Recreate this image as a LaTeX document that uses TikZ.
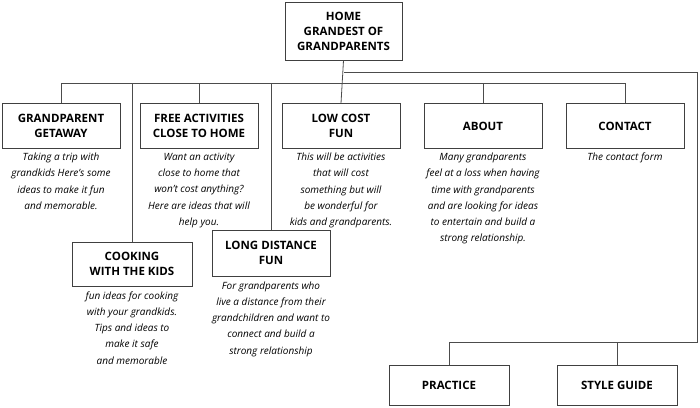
\documentclass[tikz,border=0pt]{standalone}
\usepackage{fontspec}
\setmainfont{Open Sans}
\usetikzlibrary{positioning}
\begin{document}
\begin{tikzpicture}[x=1pt,y=-1pt,
page/.style={draw=black!75,thick,align=center,font=\bfseries\fontsize{11.5}{15}\selectfont,inner sep=0pt},
note/.style={align=center,font=\itshape\fontsize{10}{16.2}\selectfont,inner sep=0pt},
link/.style={draw=black!70,thick}]
\useasboundingbox (0,0) rectangle (700,407);
% home
\node[page,minimum width=117pt,minimum height=58pt] (home) at (343.5,31) {HOME\\GRANDEST OF\\GRANDPARENTS};
% first row
\foreach \n/\x/\t in {get/61/{GRANDPARENT\\GETAWAY},free/199/{FREE ACTIVITIES\\CLOSE TO HOME},low/341/{LOW COST\\FUN},about/483/ABOUT,contact/625/CONTACT}
  \node[page,minimum width=118pt,minimum height=45pt] (\n) at (\x,126) {\t};
\node[page,minimum width=120pt,minimum height=44pt] (cook) at (132,264) {COOKING\\WITH THE KIDS};
\node[page,minimum width=118pt,minimum height=46pt] (dist) at (271,253) {LONG DISTANCE\\FUN};
\node[page,minimum width=120pt,minimum height=40pt] (practice) at (449,385) {PRACTICE};
\node[page,minimum width=120pt,minimum height=40pt] (style) at (617,385) {STYLE GUIDE};
% notes
\node[note,below=4pt of get] {Taking a trip with\\grandkids Here's some\\ideas to make it fun\\and memorable.};
\node[note,below=4pt of free] {Want an activity\\close to home that\\won't cost anything?\\Here are ideas that will\\help you.};
\node[note,below=4pt of low] {This will be activities\\that will cost\\something but will\\be wonderful for\\kids and grandparents.};
\node[note,below=4pt of about] {Many grandparents\\feel at a loss when having\\time with grandparents\\and are looking for ideas\\to entertain and build a\\strong relationship.};
\node[note,below=4pt of contact] {The contact form};
\node[note,below=5pt of cook] {fun ideas for cooking\\with your grandkids.\\Tips and ideas to\\make it safe\\and memorable};
\node[note,below=5pt of dist] {For grandparents who\\live a distance from their\\grandchildren and want to\\connect and build a\\strong relationship};
% connectors
\coordinate (bus) at (0,83);
\coordinate (side) at (697,72);
\draw[link] (home.south) -- (low.north);
\draw[link] (get.north) |- (bus -| contact.north) -- (contact.north);
\foreach \n in {free,about} \draw[link] (\n.north) -- (\n.north |- bus);
\draw[link] (cook.north) -- (cook.north |- bus);
\draw[link] (dist.north) -- (dist.north |- bus);
\draw[link] (home.south |- side) -- (side) |- (practice.north |- 0,342) -- (practice.north);
\draw[link] (style.north) -- (style.north |- 0,342);
\end{tikzpicture}
\end{document}
